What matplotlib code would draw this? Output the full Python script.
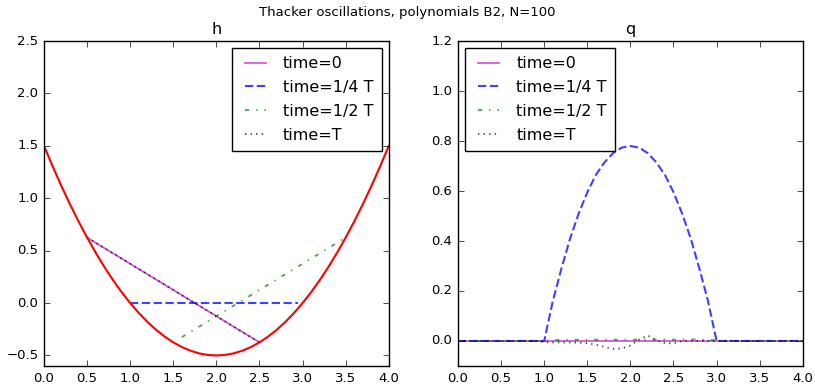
import numpy as np
import matplotlib
matplotlib.use('Agg')
import matplotlib.pyplot as plt

# x grid of the solution (41 samples on [0, 4])
x = np.linspace(0.0, 4.0, 41)

# bottom topography (red)
bottom = [1.5, 1.305, 1.12, 0.945, 0.78, 0.625, 0.48, 0.345, 0.22, 0.105,
          0.0, -0.095, -0.18, -0.255, -0.32, -0.375, -0.42, -0.455, -0.48, -0.495,
          -0.5, -0.495, -0.48, -0.455, -0.42, -0.375, -0.32, -0.255, -0.18, -0.095,
          0.0, 0.105, 0.22, 0.345, 0.48, 0.625, 0.78, 0.945, 1.12, 1.305, 1.5]

# free surface in the wet region, left panel
x_t0 = [0.5, 2.5]
h_t0 = [0.625, -0.375]
x_t14 = [1.0, 2.95]
h_t14 = [0.0, 0.0]
x_t12 = [1.6, 3.5]
h_t12 = [-0.325, 0.625]
x_tT = [0.5, 2.5]
h_tT = [0.625, -0.375]

# discharge q, right panel
q_t0 = [0.0] * 41
q_t14 = [0, 0, 0, 0, 0, 0, 0, 0, 0, 0,
         0.0, 0.16, 0.29, 0.41, 0.51, 0.595, 0.665, 0.715, 0.752, 0.774,
         0.78, 0.774, 0.752, 0.715, 0.665, 0.595, 0.51, 0.41, 0.29, 0.16,
         0.0, 0, 0, 0, 0, 0, 0, 0, 0, 0, 0]
q_t12 = [0, 0, 0, 0, 0, 0, 0, 0, 0, 0,
         0.0, 0.003, 0.004, 0.004, 0.005, 0.005, 0.005, 0.005, 0.005, 0.005,
         0.005, 0.005, 0.005, 0.005, 0.005, 0.005, 0.005, 0.006, 0.006, 0.005,
         0.002, 0, 0, 0, 0, 0, 0, 0, 0, 0, 0]
q_tT = [0, 0, 0, 0, 0, 0, 0, 0, 0, 0,
        -0.005, -0.006, -0.006, -0.006, -0.007, -0.009, -0.015, -0.024, -0.031, -0.03,
        -0.018, 0.005, 0.022, 0.004, -0.008, -0.01, 0.0, 0, 0, 0,
        0, 0, 0, 0, 0, 0, 0, 0, 0, 0, 0]

labels = ['time=0', 'time=1/4 T', 'time=1/2 T', 'time=T']

plt.style.use('classic')
plt.rcParams['font.family'] = ['DejaVu Sans']
plt.rcParams['xtick.labelsize'] = 9.5
plt.rcParams['ytick.labelsize'] = 9.5

fig = plt.figure(figsize=(8.15, 3.84), dpi=100)
fig.patch.set_facecolor('white')
ax1 = fig.add_axes([0.054, 0.047, 0.423, 0.846])
ax2 = fig.add_axes([0.562, 0.047, 0.423, 0.846])

styles = [dict(color='m', ls='-', lw=1.2, alpha=0.7),
          dict(color='b', ls='--', lw=1.5, alpha=0.75, dashes=(6, 2.5)),
          dict(color='g', ls='-.', lw=1.3, alpha=0.7),
          dict(color='k', ls=':', lw=1.3, alpha=0.7)]

leg_kw = dict(fontsize=11.5, fancybox=False, handlelength=1.9,
              labelspacing=0.55, borderpad=0.5, borderaxespad=0.45)

ax1.plot(x_t0, h_t0, label=labels[0], **styles[0])
ax1.plot(x_t14, h_t14, label=labels[1], **styles[1])
ax1.plot(x_t12, h_t12, label=labels[2], **styles[2])
ax1.plot(x_tT, h_tT, label=labels[3], **styles[3])
ax1.plot(x, bottom, color='r', lw=1.5)
ax1.set_xlim(0, 4)
ax1.set_ylim(-0.6, 2.5)
ax1.set_title('h', fontsize=11.5)
ax1.legend(loc='upper right', **leg_kw)

for q, st, lab in zip([q_t0, q_t14, q_t12, q_tT], styles, labels):
    ax2.plot(x, q, label=lab, **st)
ax2.set_xlim(0, 4)
ax2.set_ylim(-0.1, 1.2)
ax2.set_title('q', fontsize=11.5)
ax2.legend(loc='upper left', **leg_kw)

fig.suptitle('Thacker oscillations, polynomials B2, N=100', fontsize=9.5, y=0.985)

plt.savefig('out.png', dpi=100, facecolor='white')
plt.close()
